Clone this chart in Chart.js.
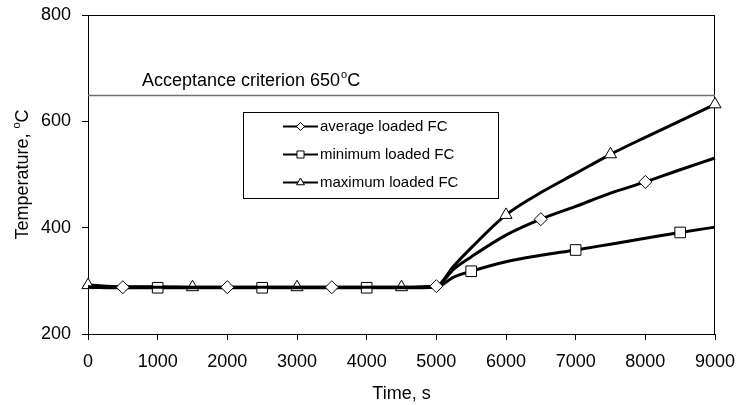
<!DOCTYPE html>
<html lang="en">
<head>
    <meta charset="UTF-8">
    <title>Temperature vs time</title>
    <script src="https://cdn.jsdelivr.net/npm/chart.js"></script>
    <style>
        html, body { margin: 0; padding: 0; background: #fff; }
        #wrap { width: 737px; height: 405px; }
    </style>
</head>
<body>
    <div id="wrap"><canvas id="tempChart" width="737" height="405"></canvas></div>

    <script>
        // values
        const times = [0, 500, 1000, 1500, 2000, 2500, 3000, 3500, 4000, 4500, 5000, 5250, 5500, 6000, 6500, 7000, 7500, 8000, 8500, 9000];
        const avgLoaded = [289, 288, 288, 288, 288, 288, 288, 288, 288, 288, 290, 322, 345, 386, 416, 440, 465, 486, 509, 531];
        const minLoaded = [288, 287, 287, 287, 287, 287, 287, 287, 287, 287, 288, 307, 318, 336, 348, 358, 369, 380, 391, 401];
        const maxLoaded = [292, 289, 289, 288, 288, 288, 288, 288, 288, 288, 290, 328, 362, 424, 466, 502, 538, 570, 601, 632];
        // times where a marker is drawn on each line
        const avgMarkers = [500, 2000, 3500, 5000, 6500, 8000];
        const minMarkers = [1000, 2500, 4000, 5500, 7000, 8500];
        const maxMarkers = [0, 1500, 3000, 4500, 6000, 7500, 9000];
        const yTicks = [200, 400, 600, 800];
        const criterion = 650;

        const FONT = "'Liberation Sans', Arial, sans-serif";

        function series(label, values, marks, style, radius) {
            return {
                label: label,
                data: times.map((t, i) => ({ x: t, y: values[i] })),
                borderColor: '#000',
                borderWidth: 3,
                backgroundColor: '#fff',
                pointStyle: style,
                pointBackgroundColor: '#fff',
                pointBorderColor: '#000',
                pointBorderWidth: 1,
                pointRadius: ctx => marks.includes(times[ctx.dataIndex]) ? radius : 0,
                pointHoverRadius: ctx => marks.includes(times[ctx.dataIndex]) ? radius : 0,
                cubicInterpolationMode: 'monotone',
                clip: false,
                legendRadius: style === 'rectRot' ? 4 : (style === 'rect' ? 5 : 4.5)
            };
        }

        // text with a small raised "o" for the degree sign
        function drawSupText(ctx, parts, x, y, size) {
            const big = size + 'px ' + FONT;
            const small = Math.round(size * 0.62) + 'px ' + FONT;
            let w = 0;
            parts.forEach(p => { ctx.font = p[1] ? small : big; w += ctx.measureText(p[0]).width; });
            let cx = x - w / 2;
            ctx.textAlign = 'left';
            ctx.textBaseline = 'alphabetic';
            parts.forEach(p => {
                ctx.font = p[1] ? small : big;
                ctx.fillText(p[0], cx, p[1] ? y - size * 0.45 : y);
                cx += ctx.measureText(p[0]).width;
            });
        }

        const decorations = {
            id: 'decorations',
            beforeDatasetsDraw(chart) {
                const ctx = chart.ctx;
                const a = chart.chartArea;
                const ys = chart.scales.y;
                ctx.save();
                // plot frame
                ctx.strokeStyle = '#000';
                ctx.lineWidth = 1;
                ctx.strokeRect(a.left + 0.5, a.top + 0.5, a.right - a.left - 1, a.bottom - a.top);
                // acceptance criterion line
                const yc = Math.round(ys.getPixelForValue(criterion)) + 0.5;
                ctx.strokeStyle = '#707070';
                ctx.lineWidth = 1.5;
                ctx.beginPath();
                ctx.moveTo(a.left, yc);
                ctx.lineTo(a.right, yc);
                ctx.stroke();
                ctx.fillStyle = '#000';
                ctx.font = '18px ' + FONT;
                ctx.textAlign = 'left';
                const label = 'Acceptance criterion ' + criterion;
                ctx.fillText(label, a.left + 54, yc - 10);
                let lx = a.left + 54 + ctx.measureText(label).width + 1;
                ctx.font = '11px ' + FONT;
                ctx.fillText('o', lx, yc - 18);
                lx += ctx.measureText('o').width;
                ctx.font = '18px ' + FONT;
                ctx.fillText('C', lx, yc - 10);
                // y axis title
                ctx.translate(28, (a.top + a.bottom) / 2);
                ctx.rotate(-Math.PI / 2);
                drawSupText(ctx, [['Temperature, ', false], ['o', true], ['C', false]], 0, 0, 18);
                ctx.restore();
            },
            afterDatasetsDraw(chart) {
                const ctx = chart.ctx;
                const box = { x: 243.5, y: 112.5, w: 255, h: 86 };
                ctx.save();
                ctx.fillStyle = '#fff';
                ctx.fillRect(box.x, box.y, box.w, box.h);
                ctx.strokeStyle = '#000';
                ctx.lineWidth = 1;
                ctx.strokeRect(box.x, box.y, box.w, box.h);
                chart.data.datasets.forEach((ds, i) => {
                    const cy = box.y + 14 + i * 28;
                    ctx.strokeStyle = '#000';
                    ctx.lineWidth = 2;
                    ctx.beginPath();
                    ctx.moveTo(283, cy);
                    ctx.lineTo(318, cy);
                    ctx.stroke();
                    ctx.fillStyle = '#fff';
                    ctx.lineWidth = 1;
                    Chart.helpers.drawPoint(ctx, { pointStyle: ds.pointStyle, radius: ds.legendRadius, borderWidth: 1, rotation: 0 }, 300.5, cy);
                    ctx.fillStyle = '#000';
                    ctx.font = '15px ' + FONT;
                    ctx.textAlign = 'left';
                    ctx.textBaseline = 'middle';
                    ctx.fillText(ds.label, 320, cy);
                });
                ctx.restore();
            }
        };

        new Chart(document.getElementById('tempChart').getContext('2d'), {
            type: 'line',
            data: {
                datasets: [
                    series('average loaded FC', avgLoaded, avgMarkers, 'rectRot', 6.5),
                    series('minimum loaded FC', minLoaded, minMarkers, 'rect', 7.5),
                    series('maximum loaded FC', maxLoaded, maxMarkers, 'triangle', 7)
                ]
            },
            options: {
                responsive: false,
                animation: false,
                events: [],
                layout: { padding: { top: 15, right: 22, left: 0, bottom: 0 } },
                plugins: {
                    legend: { display: false },
                    tooltip: { enabled: false }
                },
                scales: {
                    x: {
                        type: 'linear',
                        min: 0,
                        max: 9000,
                        afterFit: s => { s.height = 71; s.paddingLeft = 0; s.paddingRight = 0; },
                        ticks: { stepSize: 1000, color: '#000', font: { family: FONT, size: 18 }, padding: 11, maxRotation: 0, callback: v => String(v) },
                        grid: { drawOnChartArea: false, drawTicks: true, tickLength: 6, color: '#000' },
                        border: { color: '#000', width: 1 },
                        title: { display: true, text: 'Time, s', color: '#000', font: { family: FONT, size: 18 }, padding: { top: 4, bottom: 0 } }
                    },
                    y: {
                        min: 200,
                        max: 800,
                        afterFit: s => { s.width = 88; s.paddingTop = 0; s.paddingBottom = 0; },
                        afterBuildTicks: s => { s.ticks = yTicks.map(v => ({ value: v })); },
                        ticks: { color: '#000', font: { family: FONT, size: 18 }, padding: 11, callback: v => String(v) },
                        grid: { drawOnChartArea: false, drawTicks: true, tickLength: 6, color: '#000' },
                        border: { color: '#000', width: 1 }
                    }
                }
            },
            plugins: [decorations]
        });
    </script>
</body>
</html>
